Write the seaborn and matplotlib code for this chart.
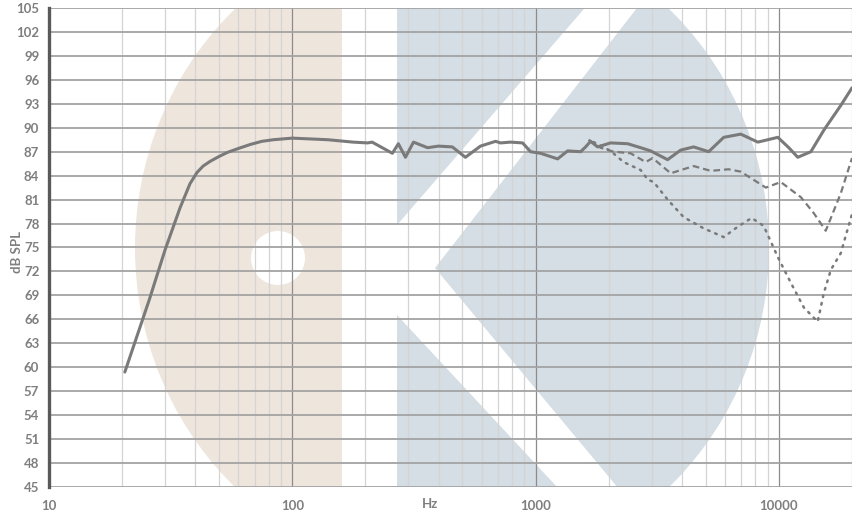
import seaborn as sns
import pandas as pd
import matplotlib
matplotlib.use("Agg")
import matplotlib.pyplot as plt
from matplotlib.patches import Ellipse, Rectangle, Polygon, Circle
from matplotlib.ticker import FixedLocator, LogLocator, NullFormatter

# on-axis response
freq_on = [20.5, 25.8, 30, 34.6, 38, 40.6, 43, 46, 50, 54, 60, 67.1, 75, 83.6, 100, 140, 178, 204, 213,
           258, 273, 292, 315, 360, 399, 455, 515, 594, 685, 718, 789, 885, 954, 1049, 1233, 1355,
           1532, 1607, 1684, 1800, 2035, 2392, 2706, 2974, 3491, 3952, 4468, 5150, 5940, 6980,
           8200, 9910, 11000, 11970, 13550, 15320, 17990, 20000]
spl_on = [59.4, 68.4, 74.7, 80.0, 83.0, 84.4, 85.2, 85.8, 86.4, 86.9, 87.4, 87.9, 88.3, 88.5, 88.7, 88.5,
          88.2, 88.1, 88.2, 86.8, 88.0, 86.3, 88.2, 87.5, 87.7, 87.6, 86.3, 87.7, 88.3, 88.1, 88.2,
          88.1, 87.0, 86.8, 86.1, 87.1, 87.0, 87.6, 88.3, 87.6, 88.1, 88.0, 87.5, 87.1, 86.0, 87.2,
          87.6, 87.0, 88.8, 89.2, 88.2, 88.8, 87.5, 86.3, 87.0, 89.7, 92.8, 95.0]

# 30 degrees off axis
freq_30 = [1652, 1850, 2094, 2460, 2837, 3030, 3595, 4468, 5250, 6220, 6980, 8850, 10190,
           12330, 13930, 15600, 17990, 20000]
spl_30 = [88.5, 87.5, 87.0, 86.8, 85.7, 86.2, 84.3, 85.2, 84.6, 84.8, 84.5, 82.5, 83.2,
          81.3, 79.3, 77.1, 81.8, 86.2]

# 60 degrees off axis
freq_60 = [1734, 2035, 2302, 2706, 2893, 3060, 3491, 4065, 4910, 5940, 6780, 7740, 8670,
           9910, 11200, 12670, 14450, 15320, 16370, 17990, 20000]
spl_60 = [88.2, 87.1, 85.7, 84.7, 83.5, 83.2, 81.0, 78.8, 77.4, 76.3, 77.6, 78.7, 77.7,
          73.8, 70.6, 67.5, 65.7, 69.3, 72.2, 74.3, 79.2]

y_ticks = list(range(45, 106, 3))
x_ticks = [10, 100, 1000, 10000]
x_tick_labels = ["10", "100", "1000", "10000"]
title = "Typical frequency response, on and off axis"

sns.set_theme(style="white")
plt.rcParams["font.family"] = ["Lato", "DejaVu Sans"]

W, H = 852, 511
fig = plt.figure(figsize=(W / 100, H / 100), dpi=100)

# background logo, drawn in pixel coordinates
bg = fig.add_axes([0, 0, 1, 1], zorder=0)
bg.set_xlim(0, W)
bg.set_ylim(H, 0)
bg.axis("off")
beige = "#eee5dd"
blue = "#d5dee4"
cx, cy, rx, ry = 452, 248, 317, 328
e1 = Ellipse((cx, cy), 2 * rx, 2 * ry, fc=beige, ec="none")
bg.add_patch(e1)
e1.set_clip_path(Rectangle((49, 8), 342 - 49, 479, transform=bg.transData))
e2 = Ellipse((cx, cy), 2 * rx, 2 * ry, fc=blue, ec="none")
bg.add_patch(e2)
e2.set_clip_path(Rectangle((397, 8), W - 397, 479, transform=bg.transData))
k = Polygon([(380, 225), (397, 225), (635, -50), (682, -50), (435, 268),
             (678, 560), (625, 560), (397, 315), (380, 315)], closed=True, fc="white", ec="none")
bg.add_patch(k)
bg.add_patch(Circle((278, 258), 27, fc="white", ec="none"))

# chart
ax = fig.add_axes([49 / W, (H - 487) / H, (W - 49) / W, 479 / H], zorder=2)
ax.set_facecolor("none")
ax.set_xscale("log")

line_col = "#7a7a7a"
sns.lineplot(x=freq_on, y=spl_on, ax=ax, color=line_col, linewidth=2.2, estimator=None, sort=False)
sns.lineplot(x=freq_30, y=spl_30, ax=ax, color=line_col, linewidth=1.6, estimator=None, sort=False,
             linestyle=(0, (3, 1.8)))
sns.lineplot(x=freq_60, y=spl_60, ax=ax, color=line_col, linewidth=1.8, estimator=None, sort=False,
             linestyle=(0, (0.7, 2.4)), dash_capstyle="round")

ax.set_xlim(10, 20000)
ax.set_ylim(45, 105)
ax.yaxis.set_major_locator(FixedLocator(y_ticks))
ax.set_xticks(x_ticks)
ax.set_xticklabels(x_tick_labels)
ax.xaxis.set_minor_locator(LogLocator(base=10, subs=range(2, 10)))
ax.xaxis.set_minor_formatter(NullFormatter())

ax.set_axisbelow(True)
ax.grid(True, which="major", axis="y", color="#a3a3a3", linewidth=1.3)
ax.grid(True, which="major", axis="x", color="#8c8c8c", linewidth=0.9)
ax.grid(True, which="minor", axis="x", color="#d4d4d4", linewidth=0.9)

for s in ["top", "right", "bottom"]:
    ax.spines[s].set_visible(False)
ax.spines["left"].set_color("#5a5a5a")
ax.spines["left"].set_linewidth(2.4)

ax.tick_params(axis="both", which="both", length=0, labelcolor="#7f7f7f", labelsize=9.5)
ax.tick_params(axis="y", pad=7)
ax.tick_params(axis="x", pad=9)
for lab in ax.get_xticklabels() + ax.get_yticklabels():
    lab.set_fontweight("bold")

ax.set_xlabel("Hz", color="#7f7f7f", fontsize=9.5, fontweight="bold")
ax.xaxis.set_label_coords(0.474, -0.022)
ax.set_ylabel("dB SPL", color="#7f7f7f", fontsize=9.5, fontweight="bold")
ax.yaxis.set_label_coords(-0.033, 0.49)

# title sits at the very top edge, only its lowest strokes show
fig.text(0.5, 1 + 3.0 / H, title, ha="center", va="baseline", color="#2b5b9e",
         fontsize=11, fontweight="bold")

fig.savefig("out.png", dpi=100)
